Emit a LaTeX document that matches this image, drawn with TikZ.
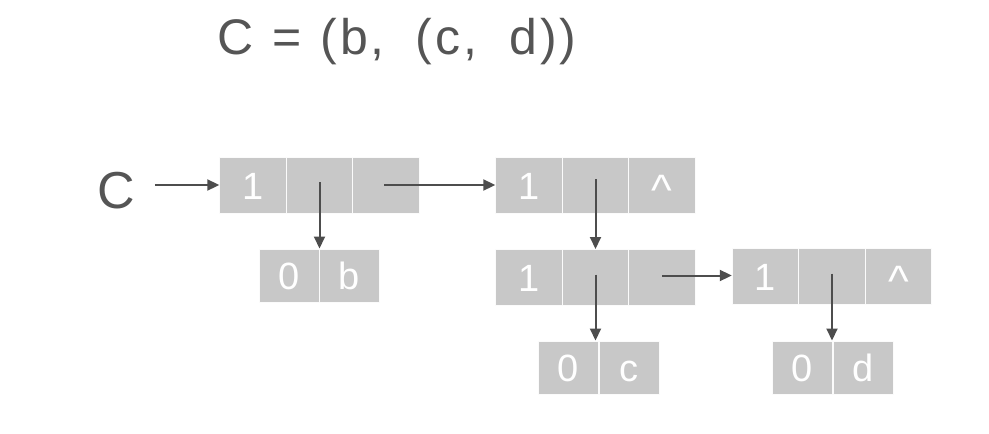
\documentclass[tikz,border=0pt]{standalone}
\usepackage{fontspec}
\setmainfont{Liberation Sans}
\usepackage{tikz}
\usetikzlibrary{arrows.meta}

\definecolor{cellgray}{HTML}{C8C8C8}
\definecolor{inkgray}{HTML}{555555}
\definecolor{arrowgray}{HTML}{4D4D4D}

\begin{document}
\begin{tikzpicture}[x=1pt,y=-1pt,
	cell/.style={fill=cellgray,draw=white!92!cellgray,line width=1pt,inner sep=0pt,
		minimum width=66.4pt,minimum height=56pt,text height=28pt,text depth=0pt,
		text=white,font=\fontsize{38}{42}\selectfont},
	atom/.style={cell,minimum width=60pt,minimum height=53pt},
	link/.style={draw=arrowgray,line width=2pt,-{Triangle[length=12pt,width=11pt]}},
	label/.style={text=inkgray,inner sep=0pt}]
	\useasboundingbox (0,0) rectangle (989,434);
	% title
	\node[label,anchor=base west,font=\fontsize{50}{56}\selectfont\addfontfeature{LetterSpace=6}] (title) at (217,54) {C\hspace{19pt}=\hspace{19pt}(b,\hspace{31pt}(c,\hspace{32pt}d))};
	\node[label,anchor=base west,font=\fontsize{52}{58}\selectfont] (lc) at (97,208) {C};
	% list C
	\node[cell] (a1) at (253,185) {1};
	\node[cell] (a2) at (319.5,185) {};
	\node[cell] (a3) at (386,185) {};
	\node[atom] (b0) at (289,275.5) {0};
	\node[atom] (bb) at (349,275.5) {b};
	% second node
	\node[cell] (c1) at (529,185) {1};
	\node[cell] (c2) at (595.5,185) {};
	\node[cell] (c3) at (662,185) {\fontsize{44}{48}\selectfont\raisebox{-6pt}{\textasciicircum}};
	% sublist (c, d)
	\node[cell] (d1) at (529,277.5) {1};
	\node[cell] (d2) at (595.5,277.5) {};
	\node[cell] (d3) at (662,277.5) {};
	\node[cell] (e1) at (765.5,276.5) {1};
	\node[cell] (e2) at (832,276.5) {};
	\node[cell] (e3) at (898.5,276.5) {\fontsize{44}{48}\selectfont\raisebox{-6pt}{\textasciicircum}};
	\node[atom] (f0) at (568.5,367.5) {0};
	\node[atom] (fc) at (629,367.5) {c};
	\node[atom] (g0) at (802.5,367.5) {0};
	\node[atom] (gd) at (863,367.5) {d};
	% pointers
	\coordinate (p) at ([yshift=2pt]d3.center);
	\draw[link] ([xshift=20pt]lc.east |- a1.west) -- (a1.west);
	\draw[link] ([yshift=3pt]a2.center) -- (a2.center |- b0.north);
	\draw[link] ([xshift=-2pt]a3.center) -- (c1.west);
	\draw[link] ([yshift=6pt]c2.center) -- (c2.center |- d2.north);
	\draw[link] ([yshift=3pt]d2.center) -- (d2.center |- f0.north);
	\draw[link] (p) -- (e1.west |- p);
	\draw[link] ([yshift=3pt]e2.center) -- (e2.center |- g0.north);
\end{tikzpicture}
\end{document}
